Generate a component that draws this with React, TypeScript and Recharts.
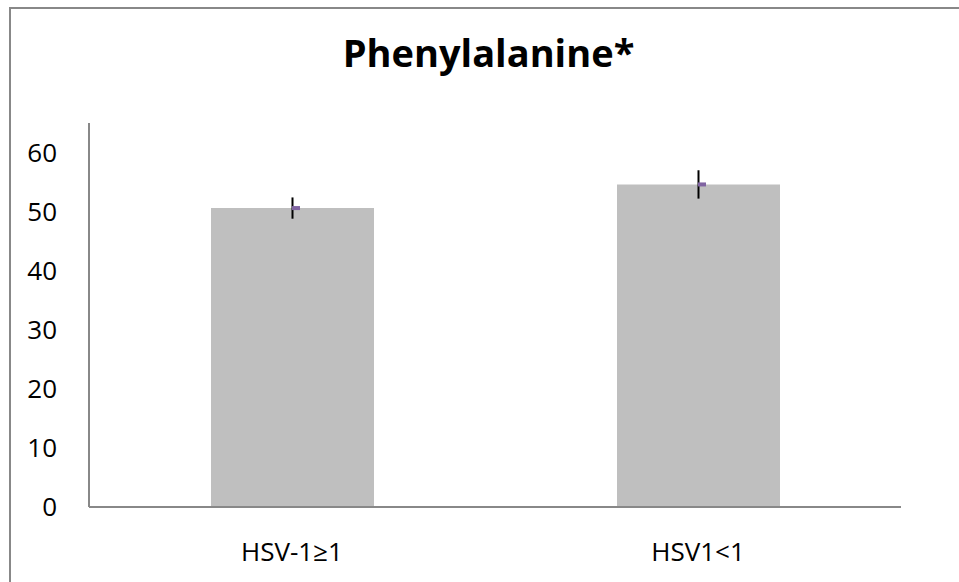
import React from 'react';
import { ComposedChart, Bar, XAxis, YAxis, ErrorBar, Scatter } from 'recharts';

const categories = ['HSV-1≥1', 'HSV1<1'];
const means = [50.6, 54.6];
const errors = [1.8, 2.4];
const yTicks = [0, 10, 20, 30, 40, 50, 60];

const data = categories.map((c, i) => ({ name: c, value: means[i], err: errors[i] }));

const FONT = '"Open Sans", Calibri, sans-serif';

const Marker = (props: any) => {
  const { cx, cy } = props;
  if (cx == null || cy == null) return null;
  return <rect x={cx} y={cy - 2} width={8} height={4} fill="#8064A2" />;
};

export default function App() {
  return (
    <div style={{ position: 'fixed', left: 0, top: 0, width: 959, height: 582, overflow: 'hidden', background: '#fff' }}>
      <div style={{ position: 'absolute', left: 9, top: 7, width: 1000, height: 700, border: '2px solid #888', boxSizing: 'border-box' }} />
      <div style={{ position: 'absolute', left: 0, width: 977, top: 26, textAlign: 'center', fontFamily: FONT, fontWeight: 700, fontSize: 38, lineHeight: '52px', color: '#000' }}>
        Phenylalanine*
      </div>
      <div style={{ position: 'absolute', left: 0, top: 0 }}>
        <ComposedChart width={959} height={582} data={data} margin={{ top: 123, right: 58, bottom: 45, left: 9 }} barCategoryGap="30%">
          <XAxis
            dataKey="name"
            height={30}
            axisLine={{ stroke: '#888', strokeWidth: 2 }}
            tickLine={false}
            tick={{ fill: '#000', fontSize: 26, fontFamily: FONT, dy: 28 }}
          />
          <YAxis
            width={80}
            domain={[0, 65]}
            ticks={yTicks}
            interval={0}
            axisLine={{ stroke: '#888', strokeWidth: 2 }}
            tickLine={false}
            tick={{ fill: '#000', fontSize: 26, fontFamily: FONT, dx: -24 }}
          />
          <Bar dataKey="value" fill="#BFBFBF" barSize={163} isAnimationActive={false}>
            <ErrorBar dataKey="err" width={0} stroke="#000" strokeWidth={2} direction="y" />
          </Bar>
          <Scatter dataKey="value" shape={<Marker />} isAnimationActive={false} />
        </ComposedChart>
      </div>
    </div>
  );
}
